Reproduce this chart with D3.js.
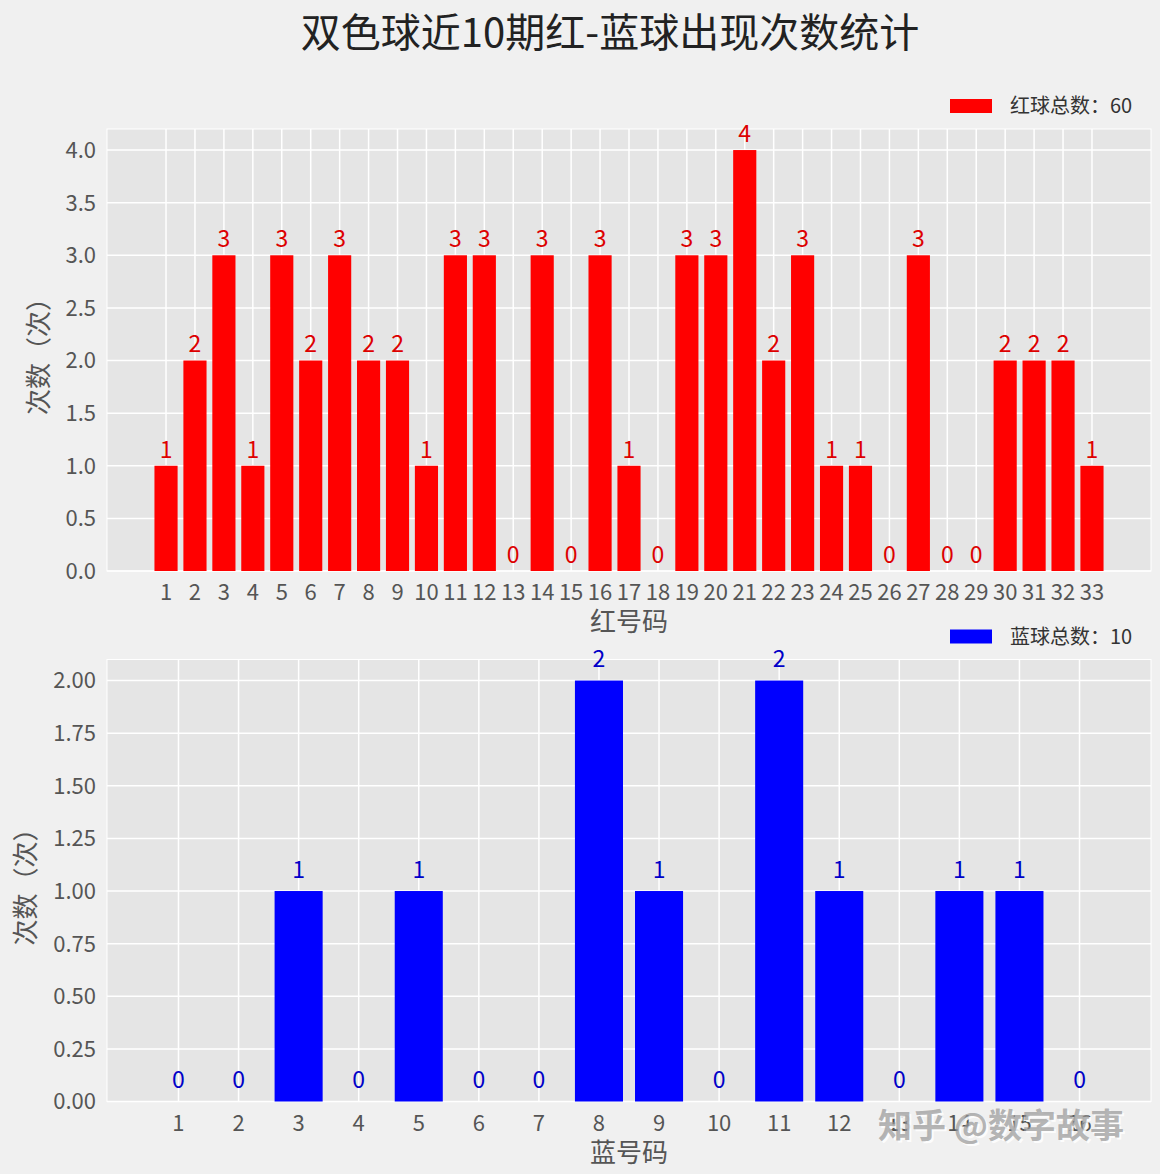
<!DOCTYPE html>
<html>
<head>
<meta charset="utf-8">
<script src="https://cdn.jsdelivr.net/npm/d3@7"></script>
<style>
    body { margin: 0; background: #f0f0f0; }
    svg { display: block; font-family: "Noto Sans CJK SC", "DejaVu Sans", sans-serif; }
</style>
</head>
<body>
<div id="chart"></div>
<script>
// data
const redNumbers = [1,2,3,4,5,6,7,8,9,10,11,12,13,14,15,16,17,18,19,20,21,22,23,24,25,26,27,28,29,30,31,32,33];
const redCounts = [1,2,3,1,3,2,3,2,2,1,3,3,0,3,0,3,1,0,3,3,4,2,3,1,1,0,3,0,0,2,2,2,1];
const blueNumbers = [1,2,3,4,5,6,7,8,9,10,11,12,13,14,15,16];
const blueCounts = [0,0,1,0,1,0,0,2,1,0,2,1,0,1,1,0];
const redYTicks = [0, 0.5, 1.0, 1.5, 2.0, 2.5, 3.0, 3.5, 4.0];
const blueYTicks = [0, 0.25, 0.5, 0.75, 1.0, 1.25, 1.5, 1.75, 2.0];

const width = 1160, height = 1174;

const svg = d3.select("#chart")
    .append("svg")
    .attr("width", width)
    .attr("height", height);

svg.append("rect")
    .attr("width", width)
    .attr("height", height)
    .attr("fill", "#f0f0f0");

svg.append("text")
    .attr("x", 610)
    .attr("y", 47)
    .attr("text-anchor", "middle")
    .attr("font-size", 40)
    .attr("fill", "#222")
    .text("双色球近10期红-蓝球出现次数统计");

function drawPanel(opts) {
    const { numbers, counts, yTicks, tickFmt, top, barColor, labelColor, xTitle, legendText, yLabelX } = opts;
    const left = 107, right = 1151, plotH = 442;
    const bottom = top + plotH;
    const barW = 0.8;

    // matplotlib-like 5% margins around the bar extents
    const lo = d3.min(numbers) - barW / 2, hi = d3.max(numbers) + barW / 2;
    const pad = (hi - lo) * 0.05;
    const x = d3.scaleLinear().domain([lo - pad, hi + pad]).range([left, right]);
    const y = d3.scaleLinear().domain([0, d3.max(counts) * 1.05]).range([bottom, top]);

    const g = svg.append("g");

    g.append("rect")
        .attr("x", left)
        .attr("y", top)
        .attr("width", right - left)
        .attr("height", plotH)
        .attr("fill", "#e5e5e5")
        .attr("stroke", "white")
        .attr("stroke-width", 1);

    // grid
    g.selectAll(".hgrid")
        .data(yTicks)
        .enter()
        .append("line")
        .attr("x1", left).attr("x2", right)
        .attr("y1", d => y(d)).attr("y2", d => y(d))
        .attr("stroke", "white")
        .attr("stroke-width", 1.5);

    g.selectAll(".vgrid")
        .data(numbers)
        .enter()
        .append("line")
        .attr("x1", d => x(d)).attr("x2", d => x(d))
        .attr("y1", top).attr("y2", bottom)
        .attr("stroke", "white")
        .attr("stroke-width", 1.5);

    // bars
    g.selectAll(".bar")
        .data(numbers)
        .enter()
        .append("rect")
        .attr("x", d => x(d - barW / 2))
        .attr("width", d => x(d + barW / 2) - x(d - barW / 2))
        .attr("y", (d, i) => y(counts[i]))
        .attr("height", (d, i) => bottom - y(counts[i]))
        .attr("fill", barColor);

    // value labels
    g.selectAll(".val")
        .data(numbers)
        .enter()
        .append("text")
        .attr("x", d => x(d))
        .attr("y", (d, i) => y(counts[i] + 0.05) - 3)
        .attr("text-anchor", "middle")
        .attr("font-size", 23)
        .attr("fill", labelColor)
        .text((d, i) => counts[i]);

    // y tick labels
    g.selectAll(".ytick")
        .data(yTicks)
        .enter()
        .append("text")
        .attr("x", left - 11)
        .attr("y", d => y(d))
        .attr("dy", "0.36em")
        .attr("text-anchor", "end")
        .attr("font-size", 22)
        .attr("fill", "#555")
        .text(d => d3.format(tickFmt)(d));

    // x tick labels
    g.selectAll(".xtick")
        .data(numbers)
        .enter()
        .append("text")
        .attr("x", d => x(d))
        .attr("y", bottom + 29)
        .attr("text-anchor", "middle")
        .attr("font-size", 22)
        .attr("fill", "#555")
        .text(d => d);

    g.append("text")
        .attr("x", (left + right) / 2)
        .attr("y", bottom + 60)
        .attr("text-anchor", "middle")
        .attr("font-size", 26)
        .attr("fill", "#555")
        .text(xTitle);

    const yMid = (top + bottom) / 2;
    g.append("text")
        .attr("transform", `translate(${yLabelX},${yMid}) rotate(-90)`)
        .attr("text-anchor", "middle")
        .attr("dy", "0.35em")
        .attr("font-size", 26)
        .attr("fill", "#555")
        .text("次数（次）");

    // legend above the plot, right side
    const ly = top - 23;
    g.append("rect")
        .attr("x", 950)
        .attr("y", ly - 7)
        .attr("width", 42)
        .attr("height", 14)
        .attr("fill", barColor);
    g.append("text")
        .attr("x", 1010)
        .attr("y", ly)
        .attr("dy", "0.36em")
        .attr("font-size", 20)
        .attr("fill", "#333")
        .text(legendText + d3.sum(counts));
}

drawPanel({
    numbers: redNumbers, counts: redCounts, yTicks: redYTicks, tickFmt: ".1f",
    top: 129, barColor: "#ff0000", labelColor: "#dd0000",
    xTitle: "红号码", legendText: "红球总数：", yLabelX: 39
});

drawPanel({
    numbers: blueNumbers, counts: blueCounts, yTicks: blueYTicks, tickFmt: ".2f",
    top: 659.5, barColor: "#0000ff", labelColor: "#0000c8",
    xTitle: "蓝号码", legendText: "蓝球总数：", yLabelX: 26
});

// watermark
const wm = svg.append("g").attr("font-size", 34).attr("font-weight", "bold");
wm.append("text")
    .attr("x", 880).attr("y", 1140)
    .attr("fill", "rgba(255,255,255,0.85)")
    .text("知乎 @数字故事");
wm.append("text")
    .attr("x", 878).attr("y", 1138)
    .attr("fill", "rgba(150,150,150,0.7)")
    .text("知乎 @数字故事");
</script>
</body>
</html>
